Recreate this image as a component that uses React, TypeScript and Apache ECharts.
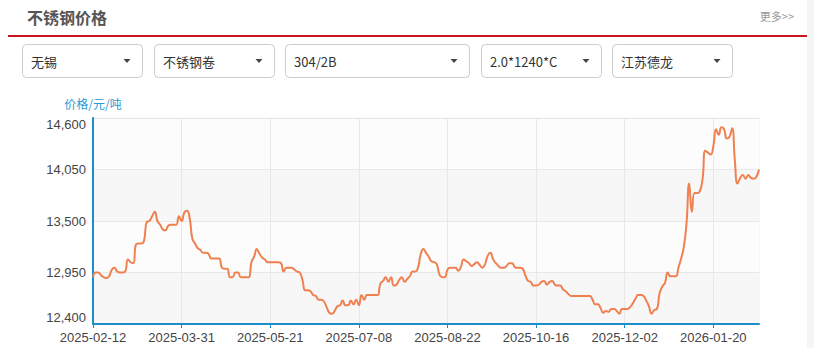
import React, { useEffect, useRef } from 'react';
import * as echarts from 'echarts';

const title = '不锈钢价格';
const moreText = '更多>>';
const yAxisName = '价格/元/吨';
const filterLabels = ['无锡', '不锈钢卷', '304/2B', '2.0*1240*C', '江苏德龙'];

// trading-day calendar (weekdays minus Chinese public holidays)
const startDate = '2025-02-12';
const endDate = '2026-02-12';
const holidays = [
  '2025-04-04', '2025-05-01', '2025-05-02', '2025-05-05', '2025-06-02',
  '2025-10-01', '2025-10-02', '2025-10-03', '2025-10-06', '2025-10-07', '2025-10-08',
  '2026-01-01', '2026-01-02',
];
const labelEvery = 33;

const yMin = 12400;
const yMax = 14600;
const yStep = 550;

const prices = [
  12900, 12950, 12950, 12920, 12900, 12890, 12910, 12980, 13000, 12960,
  12950, 12950, 12960, 13090, 13060, 13050, 13250, 13260, 13260, 13290,
  13490, 13500, 13550, 13600, 13500, 13460, 13410, 13400, 13450, 13460,
  13460, 13460, 13550, 13500, 13590, 13610, 13530, 13310, 13260, 13210,
  13190, 13160, 13160, 13150, 13100, 13100, 13100, 13100, 13000, 12990,
  12990, 12900, 12900, 12950, 12950, 12900, 12900, 12900, 12900, 13060,
  13120, 13200, 13150, 13110, 13090, 13060, 13060, 13060, 13060, 13060,
  13050, 12960, 13000, 13000, 13000, 12980, 12960, 12950, 12870, 12760,
  12760, 12750, 12710, 12700, 12660, 12660, 12640, 12580, 12520, 12510,
  12540, 12590, 12600, 12650, 12600, 12600, 12650, 12610, 12660, 12600,
  12710, 12660, 12710, 12710, 12710, 12710, 12710, 12830, 12860, 12900,
  12850, 12900, 12810, 12820, 12870, 12900, 12850, 12880, 12910, 12960,
  12960, 13000, 13140, 13200, 13160, 13120, 13070, 13060, 13040, 12930,
  12900, 12900, 12980, 13000, 13000, 13000, 12970, 13010, 13090, 13070,
  13050, 13020, 13040, 13060, 13030, 13000, 13040, 13130, 13160, 13090,
  13050, 13020, 13000, 13000, 13020, 13050, 13050, 13010, 13000, 13000,
  12990, 12920, 12860, 12850, 12810, 12810, 12820, 12850, 12860, 12820,
  12850, 12860, 12820, 12810, 12810, 12770, 12750, 12720, 12700, 12700,
  12700, 12700, 12700, 12700, 12700, 12700, 12660, 12610, 12610, 12570,
  12520, 12540, 12530, 12560, 12560, 12540, 12510, 12560, 12560, 12560,
  12580, 12620, 12670, 12710, 12710, 12700, 12650, 12590, 12510, 12550,
  12560, 12730, 12800, 12840, 12950, 12910, 12910, 12910, 13000, 13100,
  13220, 13470, 13900, 13600, 13800, 13800, 13820, 13950, 14250, 14230,
  14210, 14300, 14480, 14420, 14500, 14480, 14380, 14400, 14490, 14150,
  13900, 13960, 13990, 13950, 13990, 13960, 13950, 13970, 14050,
];

function buildDates(): string[] {
  const out: string[] = [];
  const d = new Date(startDate + 'T00:00:00Z');
  const end = new Date(endDate + 'T00:00:00Z');
  while (d.getTime() <= end.getTime()) {
    const s = d.toISOString().slice(0, 10);
    const wd = d.getUTCDay();
    if (wd !== 0 && wd !== 6 && holidays.indexOf(s) < 0) out.push(s);
    d.setUTCDate(d.getUTCDate() + 1);
  }
  return out;
}

const dates = buildDates();

const AXIS_BLUE = '#1a8fcc';
const CJK = "'Microsoft YaHei', 'Noto Sans CJK SC', sans-serif";
const LATIN = "'Microsoft YaHei', Arial, 'Liberation Sans', sans-serif";

const boxes = [
  { x: 22, w: 120 },
  { x: 154, w: 120 },
  { x: 285, w: 184 },
  { x: 481, w: 120 },
  { x: 612, w: 120 },
];

export default function App() {
  const ref = useRef<HTMLDivElement>(null);

  useEffect(() => {
    if (!ref.current) return;
    const chart = echarts.init(ref.current, null, { renderer: 'svg' });

    const graphics: any[] = [
      { type: 'rect', shape: { x: 807, y: 0, width: 7, height: 348 }, style: { fill: '#f5f5f5' }, silent: true },
      {
        type: 'text',
        style: { text: title, x: 27, y: 17, fill: '#555', fontSize: 16, fontWeight: 'bold', fontFamily: CJK, verticalAlign: 'middle' },
      },
      {
        type: 'text',
        style: { text: moreText, x: 794, y: 16, fill: '#999', fontSize: 11, fontFamily: CJK, align: 'right', verticalAlign: 'middle' },
      },
      { type: 'rect', shape: { x: 8, y: 35, width: 799, height: 2 }, style: { fill: '#c9161e' } },
    ];
    boxes.forEach((b, i) => {
      graphics.push({
        type: 'rect',
        shape: { x: b.x + 0.5, y: 44.5, width: b.w, height: 33, r: 4 },
        style: { fill: '#fff', stroke: '#cccccc', lineWidth: 1 },
      });
      graphics.push({
        type: 'text',
        style: { text: filterLabels[i], x: b.x + 9, y: 61, fill: '#333', fontSize: 13, fontFamily: CJK, verticalAlign: 'middle' },
      });
      const ax = b.x + b.w - 15;
      graphics.push({
        type: 'polygon',
        shape: { points: [[ax - 3.5, 59], [ax + 3.5, 59], [ax, 63]] },
        style: { fill: '#444' },
      });
    });

    const fmt = (v: number) => v.toLocaleString('en-US');
    const showAt = (index: number) => index % labelEvery === 0;

    chart.setOption({
      animation: false,
      backgroundColor: '#fff',
      graphic: graphics,
      grid: {
        left: 93,
        right: 55,
        top: 118,
        bottom: 24,
        show: true,
        borderColor: '#eee',
        borderWidth: 1,
        backgroundColor: 'transparent',
        containLabel: false,
        outerBoundsMode: 'none',
      },
      xAxis: {
        type: 'category',
        data: dates,
        boundaryGap: false,
        axisLine: { show: true, lineStyle: { color: AXIS_BLUE, width: 2 } },
        axisTick: { show: true, interval: showAt, length: 4, lineStyle: { color: AXIS_BLUE } },
        axisLabel: {
          interval: showAt,
          margin: 7,
          color: '#444',
          fontSize: 13,
          fontFamily: LATIN,
          hideOverlap: false,
        },
        splitLine: { show: true, interval: showAt, lineStyle: { color: '#e8e8e8', width: 1 } },
        splitArea: { show: false },
      },
      yAxis: {
        type: 'value',
        min: yMin,
        max: yMax,
        interval: yStep,
        name: yAxisName,
        nameLocation: 'end',
        nameGap: 9,
        nameTextStyle: { color: '#2a9ad5', fontSize: 12, fontFamily: CJK, align: 'center' },
        axisLine: { show: true, lineStyle: { color: AXIS_BLUE, width: 2 } },
        axisTick: { show: false },
        axisLabel: {
          margin: 7,
          color: '#444',
          fontSize: 13,
          fontFamily: LATIN,
          formatter: (v: number) => {
            if (v >= yMax) return `{top|${fmt(v)}}`;
            if (v <= yMin) return `{bot|${fmt(v)}}`;
            return fmt(v);
          },
          rich: {
            top: { padding: [12, 0, 0, 0], color: '#444', fontSize: 13, fontFamily: LATIN },
            bot: { padding: [0, 0, 14, 0], color: '#444', fontSize: 13, fontFamily: LATIN },
          },
        },
        splitLine: { show: true, lineStyle: { color: '#e8e8e8', width: 1 } },
        splitArea: { show: true, areaStyle: { color: ['#f7f7f7', '#fcfcfc'] } },
      },
      series: [
        {
          type: 'line',
          data: prices,
          smooth: true,
          showSymbol: false,
          symbol: 'none',
          lineStyle: { color: '#ef8050', width: 2 },
          itemStyle: { color: '#ef8050' },
        },
      ],
    });

    return () => chart.dispose();
  }, []);

  return (
    <div
      ref={ref}
      style={{ position: 'absolute', left: 0, top: 0, width: 814, height: 348, background: '#fff' }}
    />
  );
}
